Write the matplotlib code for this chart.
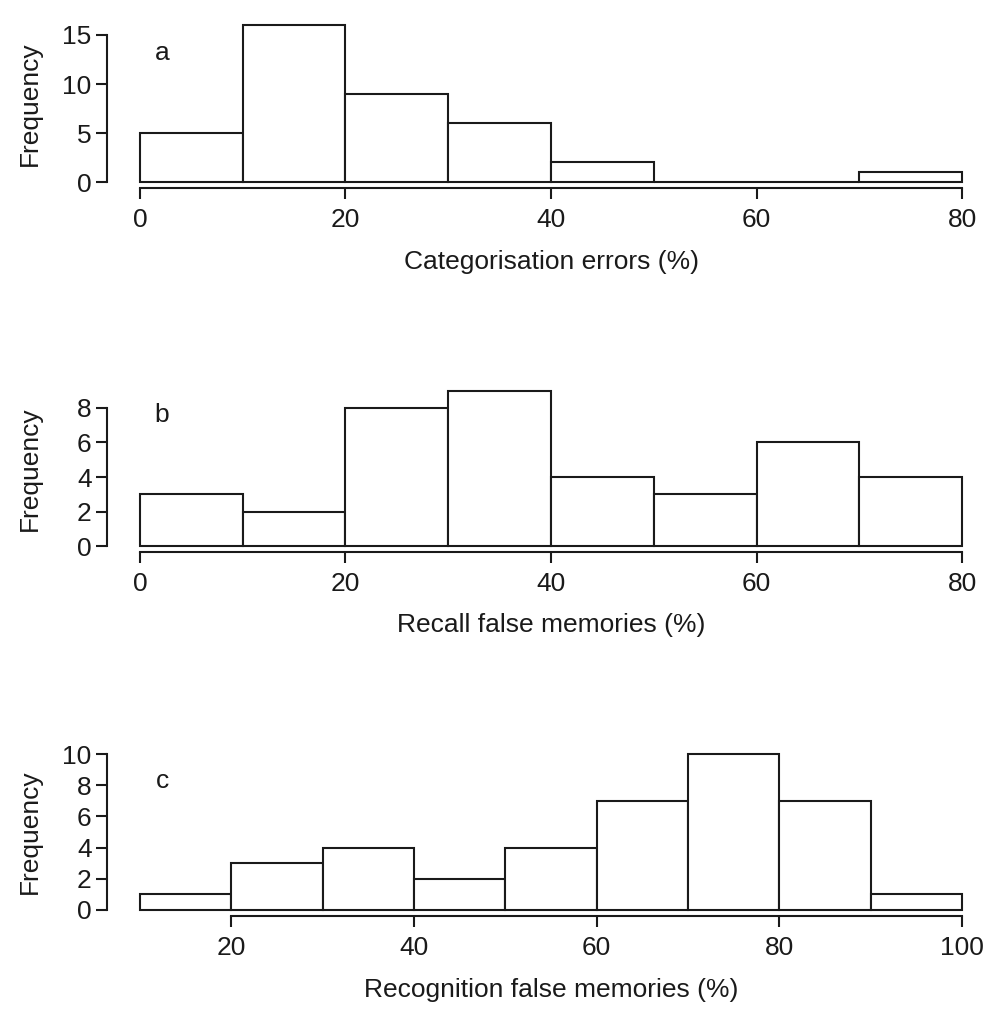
import matplotlib
matplotlib.use("Agg")
import matplotlib.pyplot as plt
import numpy as np

plt.rcParams['font.family'] = ['Liberation Sans', 'DejaVu Sans']

# Data
edges_a = [0, 10, 20, 30, 40, 50, 60, 70, 80]
counts_a = [5, 16, 9, 6, 2, 0, 0, 1]
edges_b = [0, 10, 20, 30, 40, 50, 60, 70, 80]
counts_b = [3, 2, 8, 9, 4, 3, 6, 4]
edges_c = [10, 20, 30, 40, 50, 60, 70, 80, 90, 100]
counts_c = [1, 3, 4, 2, 4, 7, 10, 7, 1]

xlabels = ["Categorisation errors (%)", "Recall false memories (%)", "Recognition false memories (%)"]
panel_letters = ["a", "b", "c"]
xticks_list = [[0, 20, 40, 60, 80], [0, 20, 40, 60, 80], [20, 40, 60, 80, 100]]
yticks_list = [[0, 5, 10, 15], [0, 2, 4, 6, 8], [0, 2, 4, 6, 8, 10]]

fig = plt.figure(figsize=(10, 10.17), dpi=100)
rects = [
    [0.107, 0.8148, 0.888, 0.1666],
    [0.107, 0.4570, 0.888, 0.1649],
    [0.107, 0.0991, 0.888, 0.1656],
]
letter_y = [0.80, 0.82, 0.80]

FS = 19
LW = 1.5
for i, (edges, counts) in enumerate([(edges_a, counts_a), (edges_b, counts_b), (edges_c, counts_c)]):
    ax = fig.add_axes(rects[i])
    edges = np.array(edges, dtype=float)
    ax.bar(edges[:-1], counts, width=np.diff(edges), align='edge',
           color='white', edgecolor='#1a1a1a', linewidth=LW)
    xr = edges[-1] - edges[0]
    ymax = max(counts)
    ax.set_xlim(edges[0] - 0.04 * xr, edges[-1] + 0.04 * xr)
    ax.set_ylim(-0.04 * ymax, ymax * 1.04)
    for s in ['top', 'right']:
        ax.spines[s].set_visible(False)
    xt = xticks_list[i]
    yt = yticks_list[i]
    ax.spines['bottom'].set_bounds(xt[0], xt[-1])
    ax.spines['left'].set_bounds(yt[0], yt[-1])
    for s in ['bottom', 'left']:
        ax.spines[s].set_linewidth(LW)
        ax.spines[s].set_color('#1a1a1a')
    ax.set_xticks(xt)
    ax.set_yticks(yt)
    ax.tick_params(axis='both', direction='out', length=8, width=LW,
                   labelsize=FS, color='#1a1a1a', labelcolor='#1a1a1a')
    ax.tick_params(axis='x', pad=6)
    ax.tick_params(axis='y', pad=3)
    ax.set_xlabel(xlabels[i], fontsize=FS, color='#1a1a1a')
    ax.set_ylabel("Frequency", fontsize=FS, color='#1a1a1a')
    ax.xaxis.set_label_coords(0.5, -0.365)
    ax.yaxis.set_label_coords(-0.073, 0.5)
    ax.text(0.062, letter_y[i], panel_letters[i], transform=ax.transAxes,
            fontsize=FS, ha='center', va='center', color='#1a1a1a')

fig.savefig("out.png", dpi=100)
